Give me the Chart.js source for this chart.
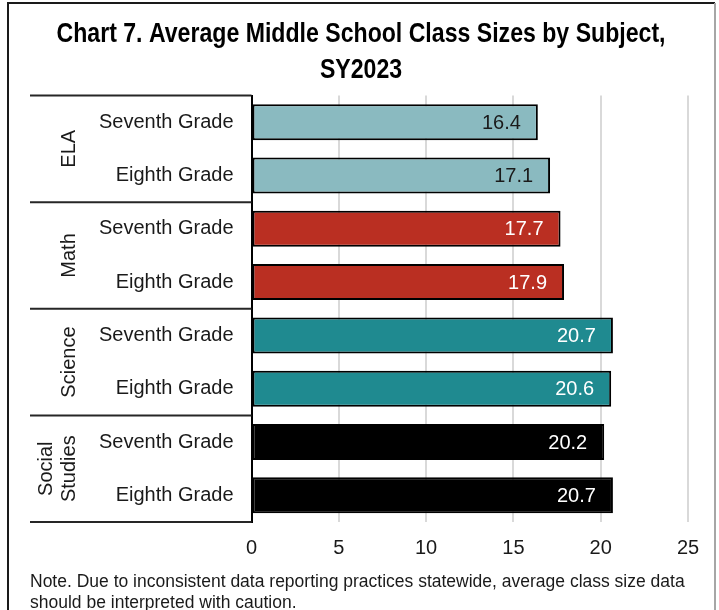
<!DOCTYPE html>
<html>
<head>
<meta charset="utf-8">
<title>Chart 7. Average Middle School Class Sizes by Subject, SY2023</title>
<script src="https://cdn.jsdelivr.net/npm/chart.js@4.4.0/dist/chart.umd.min.js"></script>
<style>
    html, body { margin: 0; padding: 0; background: #ffffff; }
    #wrap { width: 719px; height: 610px; }
</style>
</head>
<body>
<div id="wrap"><canvas id="classChart" width="719" height="610"></canvas></div>
<script>
(function() {
    const TITLE_LINES = ["Chart 7. Average Middle School Class Sizes by Subject,", "SY2023"];
    const NOTE_LINES = [
        "Note. Due to inconsistent data reporting practices statewide, average class size data",
        "should be interpreted with caution."
    ];

    const subjects = [["ELA"], ["Math"], ["Science"], ["Social", "Studies"]];
    const grades = ["Seventh Grade", "Eighth Grade", "Seventh Grade", "Eighth Grade",
                    "Seventh Grade", "Eighth Grade", "Seventh Grade", "Eighth Grade"];
    const classSizes = [16.4, 17.1, 17.7, 17.9, 20.7, 20.6, 20.2, 20.7];
    const barColors = ["#8abac0", "#8abac0", "#ba2f22", "#ba2f22",
                       "#1f8a90", "#1f8a90", "#000000", "#000000"];
    const labelColors = ["#1a1a1a", "#1a1a1a", "#ffffff", "#ffffff",
                         "#ffffff", "#ffffff", "#ffffff", "#ffffff"];
    const xTicks = [0, 5, 10, 15, 20, 25];

    const BODY_FONT = '"Liberation Sans", Arial, sans-serif';
    const TITLE_WIDTH = 609; // the title in the original is set in a condensed face

    // frame, title, note, subject groups and value labels
    const decorations = {
        id: 'decorations',
        afterDraw(chart) {
            const ctx = chart.ctx;
            const area = chart.chartArea;
            const yScale = chart.scales.y;

            ctx.save();

            // outer frame
            ctx.lineWidth = 2;
            ctx.strokeStyle = "#1a1a1a";
            ctx.beginPath();
            ctx.moveTo(8, 612);
            ctx.lineTo(8, 3);
            ctx.lineTo(715, 3);
            ctx.stroke();
            ctx.strokeStyle = "#a6a6a6";
            ctx.beginPath();
            ctx.moveTo(715, 3);
            ctx.lineTo(715, 612);
            ctx.stroke();

            // title, squeezed horizontally to the condensed width
            ctx.fillStyle = "#000000";
            ctx.font = "bold 27px " + BODY_FONT;
            ctx.textAlign = "center";
            ctx.textBaseline = "alphabetic";
            const squeeze = Math.min(1, TITLE_WIDTH / ctx.measureText(TITLE_LINES[0]).width);
            ctx.save();
            ctx.translate(361, 0);
            ctx.scale(squeeze, 1);
            TITLE_LINES.forEach((line, i) => ctx.fillText(line, 0, 42 + i * 36));
            ctx.restore();

            // note
            ctx.fillStyle = "#1a1a1a";
            ctx.font = "17.5px " + BODY_FONT;
            ctx.textAlign = "left";
            NOTE_LINES.forEach((line, i) => ctx.fillText(line, 30, 587 + i * 21));

            // subject group separators and labels
            const step = yScale.getPixelForValue(1) - yScale.getPixelForValue(0);
            ctx.strokeStyle = "#262626";
            ctx.lineWidth = 2;
            for (let g = 0; g <= subjects.length; g++) {
                const y = yScale.getPixelForValue(g * 2) - step / 2;
                ctx.beginPath();
                ctx.moveTo(30, y);
                ctx.lineTo(area.left, y);
                ctx.stroke();
            }

            ctx.fillStyle = "#1a1a1a";
            ctx.font = "20px " + BODY_FONT;
            subjects.forEach((lines, g) => {
                const mid = (yScale.getPixelForValue(g * 2) + yScale.getPixelForValue(g * 2 + 1)) / 2;
                ctx.save();
                ctx.translate(75, mid);
                ctx.rotate(-Math.PI / 2);
                ctx.textAlign = "center";
                ctx.textBaseline = "alphabetic";
                lines.forEach((line, i) => {
                    ctx.fillText(line, 0, -(lines.length - 1 - i) * 23);
                });
                ctx.restore();
            });

            // value labels inside bar ends
            const meta = chart.getDatasetMeta(0);
            ctx.font = "20px " + BODY_FONT;
            ctx.textAlign = "right";
            ctx.textBaseline = "middle";
            meta.data.forEach((bar, i) => {
                ctx.fillStyle = labelColors[i];
                ctx.fillText(classSizes[i].toFixed(1), bar.x - 17, bar.y + 1);
            });

            ctx.restore();
        }
    };

    const ctx = document.getElementById('classChart').getContext('2d');
    new Chart(ctx, {
        type: 'bar',
        data: {
            labels: grades,
            datasets: [{
                data: classSizes,
                backgroundColor: barColors,
                borderColor: "#000000",
                borderWidth: 2,
                borderSkipped: false,
                barPercentage: 0.675,
                categoryPercentage: 1.0
            }]
        },
        options: {
            indexAxis: 'y',
            responsive: false,
            animation: false,
            layout: {
                padding: { top: 95.5, right: 31, bottom: 50, left: 0 }
            },
            plugins: {
                legend: { display: false },
                tooltip: { enabled: false },
                title: { display: false }
            },
            scales: {
                x: {
                    min: xTicks[0],
                    max: xTicks[xTicks.length - 1],
                    afterBuildTicks: scale => {
                        scale.ticks = xTicks.map(v => ({ value: v }));
                    },
                    afterFit: scale => { scale.height = 38; },
                    grid: {
                        color: c => (c.index === 0 ? 'rgba(0,0,0,0)' : '#d9d9d9'),
                        lineWidth: 2,
                        drawTicks: false
                    },
                    border: { display: false },
                    ticks: {
                        padding: 14,
                        color: "#1a1a1a",
                        font: { family: BODY_FONT, size: 20 }
                    }
                },
                y: {
                    afterFit: scale => { scale.width = 251.5; },
                    grid: { display: false, drawTicks: false },
                    border: { display: true, color: "#000000", width: 2 },
                    ticks: {
                        padding: 18,
                        color: "#1a1a1a",
                        font: { family: BODY_FONT, size: 20 }
                    }
                }
            }
        },
        plugins: [decorations]
    });
})();
</script>
</body>
</html>
